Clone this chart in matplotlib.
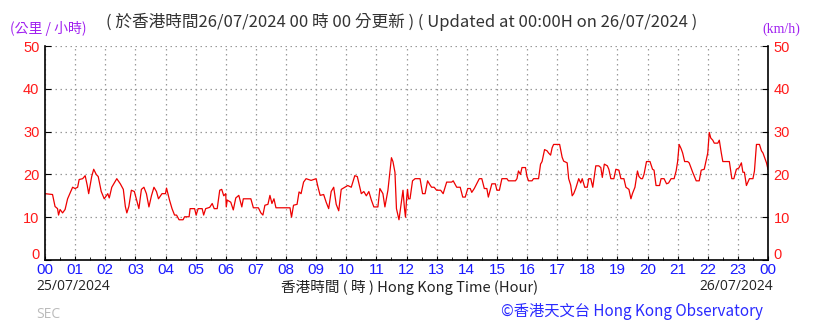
import matplotlib
matplotlib.use('Agg')
import matplotlib.pyplot as plt
import matplotlib.transforms as mtransforms
from matplotlib.ticker import MultipleLocator
import numpy as np

# 10-min mean wind speed, time as hh:mm on 25/07/2024
times = ['00:00', '00:15', '00:20', '00:25', '00:27', '00:30', '00:35', '00:40', '00:45', '00:53',
         '00:55', '01:00', '01:05', '01:08', '01:15', '01:20', '01:24', '01:27', '01:33', '01:37',
         '01:42', '01:46', '01:52', '01:58', '02:05', '02:08', '02:13', '02:23', '02:30', '02:36',
         '02:40', '02:43', '02:47', '02:52', '02:58', '03:03', '03:07', '03:12', '03:17', '03:22',
         '03:27', '03:32', '03:37', '03:42', '03:46', '03:53', '04:00', '04:02', '04:08', '04:13',
         '04:18', '04:22', '04:27', '04:35', '04:38', '04:47', '04:49', '04:58', '05:01', '05:05',
         '05:13', '05:16', '05:20', '05:28', '05:33', '05:37', '05:43', '05:48', '05:52', '05:56',
         '06:00', '06:01', '06:03', '06:10', '06:15', '06:20', '06:26', '06:32', '06:35', '06:50',
         '06:55', '07:05', '07:10', '07:14', '07:18', '07:24', '07:28', '07:32', '07:36', '07:40',
         '08:08', '08:11', '08:15', '08:22', '08:26', '08:30', '08:35', '08:40', '08:50', '09:00',
         '09:03', '09:08', '09:15', '09:20', '09:25', '09:30', '09:35', '09:40', '09:45', '09:50',
         '09:57', '10:03', '10:10', '10:17', '10:22', '10:30', '10:35', '10:40', '10:45', '10:50',
         '10:55', '11:03', '11:07', '11:13', '11:17', '11:23', '11:30', '11:33', '11:37', '11:40',
         '11:45', '11:50', '11:53', '11:56', '11:58', '12:00', '12:02', '12:04', '12:07', '12:12',
         '12:17', '12:27', '12:32', '12:37', '12:42', '12:47', '12:50', '12:55', '13:00', '13:08',
         '13:13', '13:20', '13:30', '13:33', '13:40', '13:47', '13:52', '13:57', '14:02', '14:07',
         '14:10', '14:15', '14:25', '14:30', '14:35', '14:40', '14:43', '14:50', '14:57', '15:00',
         '15:05', '15:10', '15:20', '15:23', '15:37', '15:40', '15:43', '15:47', '15:50', '15:57',
         '16:00', '16:03', '16:10', '16:13', '16:23', '16:27', '16:30', '16:35', '16:40', '16:43',
         '16:47', '16:50', '16:53', '17:05', '17:10', '17:13', '17:20', '17:23', '17:27', '17:30',
         '17:33', '17:37', '17:43', '17:47', '17:50', '17:55', '18:00', '18:03', '18:07', '18:11',
         '18:17', '18:23', '18:27', '18:30', '18:34', '18:40', '18:43', '18:47', '18:53', '18:57',
         '19:03', '19:07', '19:13', '19:17', '19:23', '19:27', '19:30', '19:35', '19:40', '19:43',
         '19:47', '19:50', '19:53', '19:58', '20:05', '20:10', '20:13', '20:17', '20:24', '20:27',
         '20:33', '20:38', '20:42', '20:47', '20:53', '20:57', '21:00', '21:03', '21:07', '21:10',
         '21:14', '21:20', '21:23', '21:30', '21:37', '21:43', '21:47', '21:53', '22:00', '22:03',
         '22:06', '22:10', '22:13', '22:20', '22:23', '22:27', '22:30', '22:40', '22:43', '22:48',
         '22:52', '22:57', '23:02', '23:07', '23:10', '23:13', '23:17', '23:23', '23:30', '23:33',
         '23:37', '23:43', '23:47', '23:50', '23:57', '24:00']
speed = [15.5, 15.3, 12.5, 12.0, 10.5, 11.8, 11.0, 11.8, 14.3, 16.5,
         17.0, 16.7, 17.0, 18.8, 19.0, 19.7, 17.5, 15.5, 19.5, 21.2,
         20.0, 19.5, 16.0, 14.3, 15.5, 14.5, 17.0, 19.0, 17.8, 16.5,
         12.5, 11.0, 12.5, 16.3, 16.0, 13.8, 12.0, 16.5, 17.0, 15.5,
         12.4, 15.0, 17.0, 16.0, 14.3, 15.5, 15.5, 16.8, 14.0, 12.0,
         10.5, 10.5, 9.4, 9.4, 10.1, 10.1, 12.0, 12.0, 10.5, 12.0,
         12.0, 10.5, 12.0, 12.3, 13.2, 12.0, 12.0, 16.3, 16.5, 15.0,
         15.5, 12.4, 14.0, 13.5, 11.7, 14.5, 15.1, 12.4, 14.3, 14.3,
         12.2, 12.2, 11.0, 10.5, 12.8, 13.0, 15.1, 13.2, 14.3, 12.2,
         12.2, 10.0, 12.8, 13.0, 15.9, 15.5, 18.2, 19.0, 18.6, 19.0,
         17.4, 15.1, 15.3, 13.5, 12.0, 16.0, 17.0, 13.0, 11.5, 16.5,
         17.0, 17.4, 17.0, 19.7, 19.5, 15.5, 16.0, 15.0, 16.0, 14.0,
         12.4, 12.4, 16.7, 15.5, 12.4, 16.3, 23.9, 23.0, 20.5, 12.0,
         9.4, 13.6, 16.3, 12.0, 10.0, 14.0, 16.5, 14.3, 14.3, 18.5,
         19.0, 19.0, 15.5, 15.5, 18.5, 17.5, 17.0, 17.0, 16.3, 16.3,
         15.5, 18.2, 18.2, 18.5, 17.0, 17.0, 14.7, 14.7, 16.7, 16.7,
         15.8, 16.7, 19.0, 19.0, 16.7, 16.7, 14.7, 17.8, 17.8, 16.3,
         16.3, 19.0, 19.0, 18.5, 18.5, 19.0, 20.8, 20.0, 21.6, 21.6,
         19.5, 18.5, 18.5, 19.0, 19.0, 22.4, 23.0, 25.8, 25.5, 25.0,
         24.5, 26.2, 27.0, 27.0, 24.0, 23.1, 22.7, 19.0, 17.5, 15.0,
         15.5, 16.7, 19.0, 18.0, 19.0, 17.0, 17.0, 19.0, 19.0, 17.0,
         22.0, 22.0, 21.6, 19.3, 22.4, 22.0, 21.2, 19.0, 19.0, 21.2,
         21.0, 19.0, 19.0, 17.0, 16.5, 14.3, 15.5, 17.0, 20.8, 19.5,
         19.0, 19.0, 20.0, 23.0, 23.0, 21.2, 21.0, 17.4, 17.4, 19.0,
         19.0, 17.8, 18.0, 19.0, 19.0, 20.8, 23.0, 27.0, 26.0, 25.0,
         23.0, 23.0, 22.7, 20.5, 18.5, 18.5, 21.0, 21.2, 25.0, 29.8,
         28.5, 28.0, 27.3, 27.3, 28.0, 25.0, 23.0, 23.0, 23.0, 19.0,
         19.0, 21.2, 21.5, 22.7, 20.5, 20.5, 17.4, 19.0, 19.0, 20.8,
         27.0, 27.0, 25.5, 25.0, 22.7, 21.2]

hour_labels = ['00', '01', '02', '03', '04', '05', '06', '07', '08', '09', '10', '11',
               '12', '13', '14', '15', '16', '17', '18', '19', '20', '21', '22', '23', '00']
y_ticks = [0, 10, 20, 30, 40, 50]

hours = np.array([int(t[:2]) + int(t[3:]) / 60.0 for t in times])

plt.rcParams['font.family'] = ['Liberation Sans', 'Noto Sans CJK TC', 'DejaVu Sans']

fig = plt.figure(figsize=(8.19, 3.23), dpi=100)
ax = fig.add_axes([45 / 819, 63 / 323, 723 / 819, 214 / 323])

ax.plot(hours, speed, color='#ee0000', lw=0.9)

ax.set_xlim(0, 24)
ax.set_ylim(0, 50)
ax.set_xticks(range(25))
ax.set_xticklabels(hour_labels)
ax.xaxis.set_minor_locator(MultipleLocator(0.5))
ax.set_yticks(y_ticks)
ax.grid(True, which='major', color='#9a9a9a', linestyle=(0, (1.2, 2.8)), lw=0.9)

for s in ['left', 'right', 'bottom']:
    ax.spines[s].set_color('black')
    ax.spines[s].set_linewidth(1.2)
ax.spines['top'].set_visible(False)

ax.tick_params(axis='x', which='major', colors='black', labelcolor='#1a1aff',
               labelsize=11, length=3, direction='in', pad=2)
ax.tick_params(axis='x', which='minor', length=2, direction='in')
ax.tick_params(axis='y', which='major', labelcolor='#ff1a1a', labelsize=10.5,
               length=4, direction='in', left=True, right=True,
               labelleft=True, labelright=True, pad=4)

# the zero labels sit a little higher, above the hour labels
fig.canvas.draw()
lift = mtransforms.ScaledTranslation(0, 5 / 72, fig.dpi_scale_trans)
for tk in ax.yaxis.get_major_ticks():
    if tk.get_loc() == 0:
        tk.label1.set_transform(tk.label1.get_transform() + lift)
        tk.label2.set_transform(tk.label2.get_transform() + lift)

# titles and notes
fig.text(10 / 819, 1 - 28 / 323, '(公里 / 小時)', color='#a020f0', fontsize=10,
         ha='left', va='center', family=['Noto Sans CJK TC'])
fig.text(402 / 819, 1 - 22 / 323,
         '( 於香港時間26/07/2024 00 時 00 分更新 ) ( Updated at 00:00H on 26/07/2024 )',
         color='#333333', fontsize=12, ha='center', va='center',
         family=['Noto Sans CJK TC', 'DejaVu Sans'])
fig.text(781 / 819, 1 - 29 / 323, '(km/h)', color='#a020f0', fontsize=10,
         ha='center', va='center', family=['Liberation Serif'])

fig.text(36 / 819, 1 - 287 / 323, '25/07/2024', color='#222222', fontsize=10,
         ha='left', va='center', family=['Open Sans'])
fig.text(410 / 819, 1 - 287 / 323, '香港時間 ( 時 ) Hong Kong Time (Hour)', color='#222222',
         fontsize=10.5, ha='center', va='center', family=['Noto Sans CJK TC', 'DejaVu Sans'])
fig.text(773 / 819, 1 - 287 / 323, '26/07/2024', color='#222222', fontsize=10,
         ha='right', va='center', family=['Open Sans'])
fig.text(632 / 819, 1 - 311 / 323, '©香港天文台 Hong Kong Observatory', color='#2a2aff',
         fontsize=11, ha='center', va='center', family=['Noto Sans CJK TC', 'DejaVu Sans'])
fig.text(36 / 819, 1 - 314 / 323, 'SEC', color='#bbbbbb', fontsize=10,
         ha='left', va='center', family=['Open Sans'])

fig.savefig('out.png', dpi=100)
